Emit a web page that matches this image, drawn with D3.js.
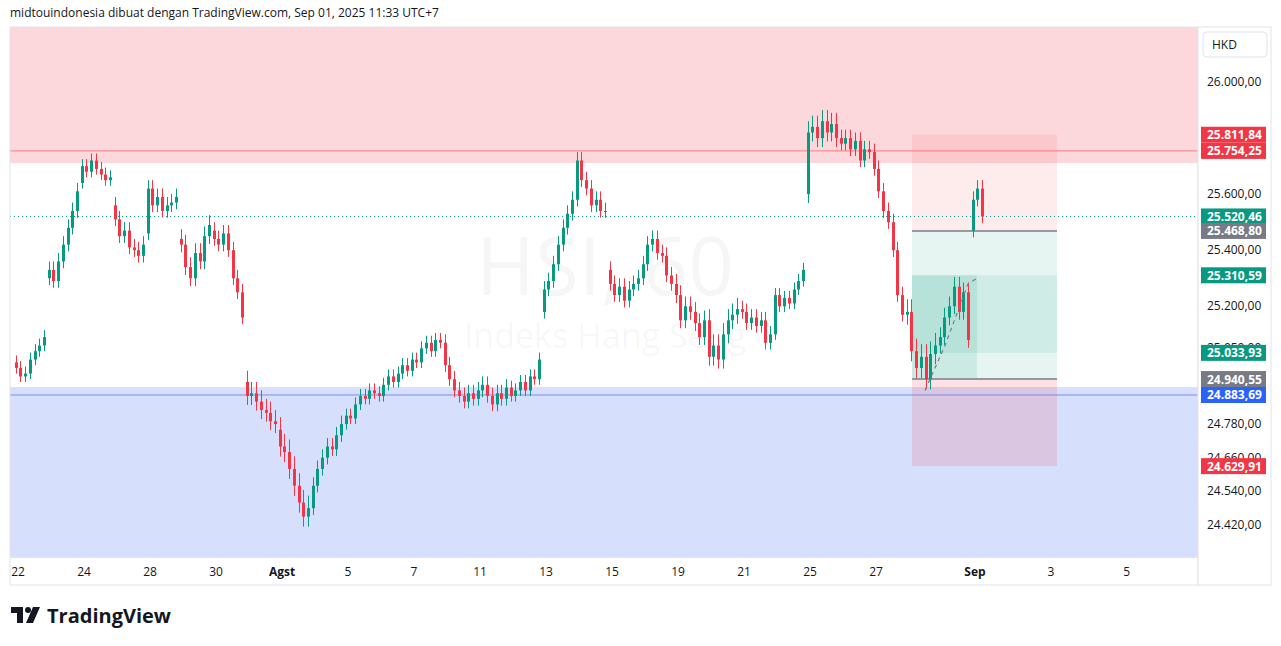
<!DOCTYPE html>
<html lang="en">
<head>
<meta charset="utf-8">
<style>
  body { margin: 0; background: #fff; }
  svg { font-family: "Open Sans", "DejaVu Sans", sans-serif; }
</style>
</head>
<body>
<script src="https://d3js.org/d3.v7.min.js"></script>
<script>
// trading days and hourly closes (7 per day)
var days = ["Jul22","Jul23","Jul24","Jul25","Jul28","Jul29","Jul30","Jul31","Aug1","Aug4","Aug5","Aug6","Aug7","Aug8",
  "Aug11","Aug12","Aug13","Aug14","Aug15","Aug18","Aug19","Aug20","Aug21","Aug22","Aug25","Aug26","Aug27","Aug28","Aug29","Sep1"];
var closes = [
  [24980,24950,24960,25010,25040,25060,25090],
  [25330,25290,25360,25420,25480,25540,25610],
  [25700,25680,25720,25690,25670,25650,25660],
  [25510,25450,25470,25410,25400,25380,25420],
  [25620,25560,25590,25540,25560,25570,25590],
  [25420,25340,25300,25390,25360,25450,25490],
  [25440,25420,25460,25400,25300,25250,25160],
  [24880,24890,24860,24830,24820,24790,24780],
  [24700,24680,24620,24560,24500,24450,24480],
  [24560,24620,24660,24700,24690,24740,24780],
  [24810,24800,24850,24880,24870,24900,24890],
  [24880,24920,24950,24930,24960,24990,24970],
  [25010,25000,25050,25070,25040,25080,25070],
  [24990,24940,24900,24880,24860,24890,24870],
  [24900,24920,24880,24850,24890,24870,24910],
  [24880,24900,24930,24900,24950,24940,25010],
  [25260,25290,25350,25420,25480,25530,25580],
  [25720,25650,25620,25560,25580,25540,25540],
  [25280,25240,25270,25220,25260,25280,25300],
  [25350,25420,25440,25390,25380,25310,25280],
  [25240,25150,25200,25180,25140,25090,25150],
  [25020,25060,25010,25100,25150,25170,25190],
  [25180,25140,25160,25130,25150,25070,25100],
  [25240,25200,25230,25210,25260,25290,25330],
  [25820,25840,25800,25860,25820,25850,25800],
  [25780,25800,25760,25790,25720,25760,25750],
  [25690,25610,25540,25500,25400,25240,25170],
  [25180,25040,24980,25020,24940,25030,25060],
  [25090,25160,25200,25270,25180,25250,25080],
  [25580,25620,25520]
];
// gap opens at the start of a day (null = previous close)
var dayOpens = [25000,25300,25640,25560,25460,25440,25470,24930,24760,null,null,null,null,null,
  null,null,25180,null,25330,null,null,null,null,null,25600,null,null,null,null,25470];
// typical wick length per day (points)
var dayWicks = [25,30,25,30,30,35,30,40,45,30,25,25,25,30,30,25,30,30,30,30,35,40,30,25,40,30,30,45,35,30];

var priceTicks = [26000,25600,25400,25200,25050,24780,24660,24540,24420];
var dateTicks = [[0,"22"],[2,"24"],[4,"28"],[6,"30"],[8,"Agst"],[10,"5"],[12,"7"],[14,"11"],[16,"13"],[18,"15"],
  [20,"19"],[22,"21"],[24,"25"],[26,"27"],[29,"Sep"],[31.3,"3"],[33.6,"5"]];
var priceLabels = [
  [25811.84,"#f23645"],[25754.25,"#f23645"],[25520.46,"#089981"],[25468.80,"#787b86"],[25310.59,"#089981"],
  [25033.93,"#089981"],[24940.55,"#787b86"],[24883.69,"#2962ff"],[24629.91,"#f23645"]
];

var W = 1281, H = 646, L = 10, R = 1198, T = 27, B = 557;
var svg = d3.select("body").append("svg").attr("width", W).attr("height", H);

var y = d3.scaleLinear().domain([24420, 26000]).range([525, 82]);
var x = d3.scaleLinear().domain([0, 1]).range([18, 51]); // one unit = one trading day
var fmt = function(v) { return d3.format(",.2f")(v).replace(/,/g, "#").replace(".", ",").replace(/#/g, "."); };

// build candles
var candles = [];
var prev = null;
closes.forEach(function(day, di) {
  day.forEach(function(c, k) {
    var o = (k === 0 && dayOpens[di] !== null) ? dayOpens[di] : prev;
    if (o === null) o = c;
    var w = dayWicks[di];
    candles.push({t: di + (k - 0.5) / 7, o: o, c: c, h: Math.max(o, c) + w, l: Math.min(o, c) - w * 0.8});
    prev = c;
  });
});

svg.append("text").attr("x", 10).attr("y", 17).attr("font-size", 12).attr("fill", "#131722")
  .text("midtouindonesia dibuat dengan TradingView.com, Sep 01, 2025 11:33 UTC+7");

var g = svg.append("g");
g.append("defs").append("clipPath").attr("id", "clip").append("rect")
  .attr("x", L).attr("y", T).attr("width", R - L).attr("height", B - T);
var p = g.append("g").attr("clip-path", "url(#clip)");

// zones
p.append("rect").attr("x", L).attr("y", T).attr("width", R - L).attr("height", y(25711) - T).attr("fill", "#fcd8dc");
p.append("rect").attr("x", L).attr("y", y(24912)).attr("width", R - L).attr("height", B - y(24912)).attr("fill", "#d6e0fd");

// watermark
p.append("text").attr("x", 605).attr("y", 295).attr("text-anchor", "middle").attr("font-size", 80)
  .attr("fill", "#131722").attr("fill-opacity", 0.04).text("HSI, 60");
p.append("text").attr("x", 605).attr("y", 348).attr("text-anchor", "middle").attr("font-size", 34)
  .attr("fill", "#131722").attr("fill-opacity", 0.04).text("Indeks Hang Seng");

// position tools
var bx0 = 912, bx1 = 1057, bxm = 977;
function box(a, b, x0, x1, col, op) {
  p.append("rect").attr("x", x0).attr("width", x1 - x0).attr("y", y(a)).attr("height", y(b) - y(a))
    .attr("fill", col).attr("fill-opacity", op);
}
box(25811.84, 25468.80, bx0, bx1, "#f23645", 0.1);
box(25468.80, 24940.55, bx0, bx1, "#089981", 0.1);
box(25310.59, 25033.93, bx0, bx1, "#089981", 0.1);
box(25310.59, 24940.55, bx0, bxm, "#089981", 0.12);
box(24940.55, 24629.91, bx0, bx1, "#f23645", 0.15);
[25468.80, 24940.55].forEach(function(v) {
  p.append("line").attr("x1", bx0).attr("x2", bx1).attr("y1", y(v)).attr("y2", y(v)).attr("stroke", "#787b86").attr("stroke-width", 1.5);
});

// level lines
p.append("line").attr("x1", L).attr("x2", R).attr("y1", y(25754.25)).attr("y2", y(25754.25)).attr("stroke", "#f77c80");
p.append("line").attr("x1", L).attr("x2", R).attr("y1", y(24883.69)).attr("y2", y(24883.69)).attr("stroke", "#7a8ee8");
p.append("line").attr("x1", L).attr("x2", R).attr("y1", y(25520.46)).attr("y2", y(25520.46))
  .attr("stroke", "#089981").attr("stroke-dasharray", "1,3");

// candles
var cw = 3;
var cg = p.append("g");
candles.forEach(function(d) {
  var col = d.c >= d.o ? "#089981" : "#f23645";
  var cx = Math.round(x(d.t));
  cg.append("line").attr("x1", cx + 0.5).attr("x2", cx + 0.5).attr("y1", y(d.h)).attr("y2", y(d.l)).attr("stroke", col);
  cg.append("rect").attr("x", cx - 1).attr("width", cw).attr("y", y(Math.max(d.o, d.c)))
    .attr("height", Math.max(1, Math.abs(y(d.o) - y(d.c)))).attr("fill", col);
});

// projected path
p.append("path").attr("d", d3.line()([[925, y(24900)], [945, y(25060)], [968, y(25280)], [977, y(25300)]]))
  .attr("fill", "none").attr("stroke", "#787b86").attr("stroke-dasharray", "4,4").attr("stroke-width", 1.2);

// frame
svg.append("rect").attr("x", L).attr("y", T).attr("width", R - L).attr("height", 585 - T)
  .attr("fill", "none").attr("stroke", "#e0e3eb");
svg.append("line").attr("x1", L).attr("x2", R).attr("y1", B + 0.5).attr("y2", B + 0.5).attr("stroke", "#e0e3eb");
svg.append("rect").attr("x", R).attr("y", T).attr("width", 73).attr("height", 558).attr("fill", "#fff").attr("stroke", "#e0e3eb");

// price axis
priceTicks.forEach(function(v) {
  svg.append("text").attr("x", 1207).attr("y", y(v) + 4).attr("font-size", 12).attr("fill", "#131722").text(fmt(v));
});
svg.append("rect").attr("x", 1203).attr("y", 32).attr("width", 64).attr("height", 25).attr("rx", 4)
  .attr("fill", "#fff").attr("stroke", "#e0e3eb");
svg.append("text").attr("x", 1212).attr("y", 49).attr("font-size", 12).attr("fill", "#131722").text("HKD");
priceLabels.forEach(function(d) {
  svg.append("rect").attr("x", 1201).attr("y", y(d[0]) - 8).attr("width", 65).attr("height", 16).attr("fill", d[1]);
  svg.append("text").attr("x", 1207).attr("y", y(d[0]) + 4.5).attr("font-size", 12).attr("font-weight", "bold")
    .attr("fill", "#fff").text(fmt(d[0]));
});

// time axis
dateTicks.forEach(function(d) {
  svg.append("text").attr("x", x(d[0])).attr("y", 576).attr("text-anchor", "middle").attr("font-size", 12)
    .attr("fill", "#131722").attr("font-weight", (d[1] === "Agst" || d[1] === "Sep") ? "bold" : "normal").text(d[1]);
});

// logo
var lg = svg.append("g").attr("fill", "#131722");
lg.append("path").attr("d", "M11 607h12v16h-6v-10h-6z");
lg.append("circle").attr("cx", 28).attr("cy", 610).attr("r", 3);
lg.append("path").attr("d", "M33 607h7l-7 16h-7z");
svg.append("text").attr("x", 47).attr("y", 623).attr("font-size", 20).attr("font-weight", "bold").attr("fill", "#131722").text("TradingView");
</script>
</body>
</html>
